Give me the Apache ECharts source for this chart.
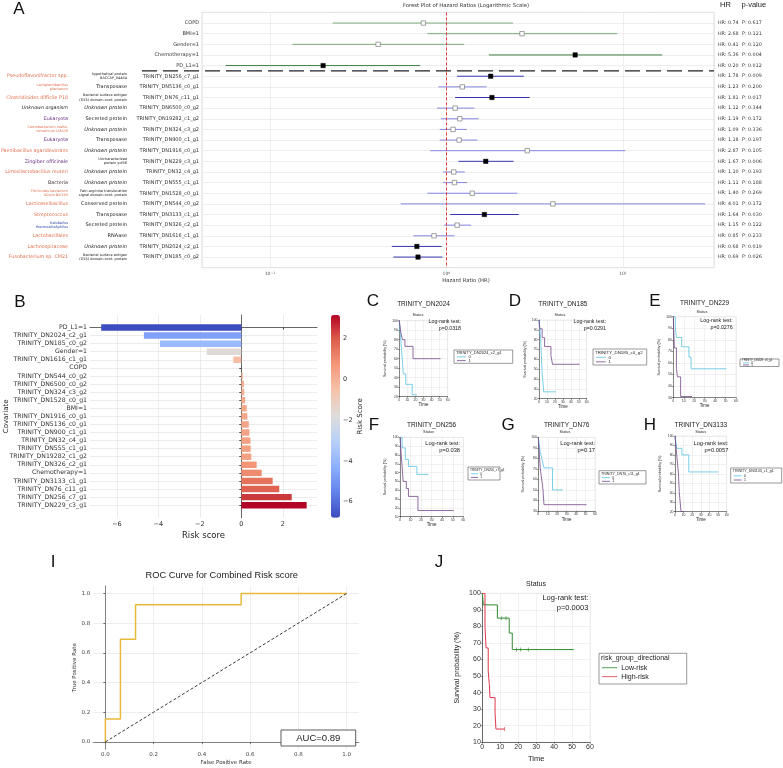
<!DOCTYPE html>
<html>
<head>
<meta charset="utf-8">
<script src="https://cdn.jsdelivr.net/npm/echarts@6/dist/echarts.min.js"></script>
<style>
  html, body { margin: 0; padding: 0; background: #fff; }
  #main { width: 783px; height: 768px; }
</style>
</head>
<body>
<div id="main"></div>
<script>
// ---- A: forest plot data ----
const forestNames = ['COPD', 'BMI=1', 'Gender=1', 'Chemotherapy=1', 'PD_L1=1',
  'TRINITY_DN256_c7_g1', 'TRINITY_DN5136_c0_g1', 'TRINITY_DN76_c11_g1', 'TRINITY_DN6500_c0_g2',
  'TRINITY_DN19282_c1_g2', 'TRINITY_DN324_c3_g2', 'TRINITY_DN900_c1_g1', 'TRINITY_DN1916_c0_g1',
  'TRINITY_DN229_c3_g1', 'TRINITY_DN32_c4_g1', 'TRINITY_DN555_c1_g1', 'TRINITY_DN1528_c0_g1',
  'TRINITY_DN544_c0_g2', 'TRINITY_DN3133_c1_g1', 'TRINITY_DN326_c2_g1', 'TRINITY_DN1616_c1_g1',
  'TRINITY_DN2024_c2_g1', 'TRINITY_DN185_c0_g2'];
const forestHR = [0.74, 2.68, 0.41, 5.36, 0.20, 1.78, 1.23, 1.81, 1.12, 1.19, 1.09, 1.18, 2.87,
  1.67, 1.10, 1.11, 1.40, 4.01, 1.64, 1.15, 0.85, 0.68, 0.69];
const forestLow = [0.227, 0.78, 0.134, 1.74, 0.056, 1.15, 0.90, 1.12, 0.885, 0.93, 0.916, 0.916, 0.81,
  1.17, 0.957, 0.957, 0.78, 0.55, 1.05, 0.97, 0.65, 0.49, 0.50];
const forestHigh = [2.38, 9.3, 1.26, 16.7, 0.71, 2.74, 1.69, 2.96, 1.44, 1.52, 1.30, 1.50, 10.3,
  2.40, 1.27, 1.31, 2.52, 29.3, 2.57, 1.38, 1.11, 0.94, 0.95];
const forestP = [0.617, 0.121, 0.120, 0.004, 0.012, 0.009, 0.200, 0.017, 0.344, 0.172, 0.336, 0.197,
  0.105, 0.006, 0.193, 0.188, 0.269, 0.172, 0.030, 0.122, 0.233, 0.019, 0.026];
const clinicalCount = 5;
const proteinLabels = ['', '', '', '', '',
  'hypothetical protein\nBACCAP_04464', 'Transposase', 'Bacterial surface antigen\n(D15) domain-cont. protein',
  'Unknown protein', 'Secreted protein', 'Unknown protein', 'Transposase', 'Unknown protein',
  'Uncharacterized\nprotein ycf68', 'Unknown protein', 'Unknown protein',
  'Twin-arginine translocation\nsignal domain-cont. protein', 'Conserved protein', 'Transposase',
  'Secreted protein', 'RNAase', 'Unknown protein', 'Bacterial surface antigen\n(D15) domain-cont. protein'];
const organismLabels = ['', '', '', '', '',
  'Pseudoflavonifractor spp.', 'Lactiplantibacillus\nplantarum', 'Clostridioides difficile P18',
  'Unknown organism', 'Eukaryota', 'Carnobacterium malta-\nromaticum LMA28', 'Eukaryota',
  'Paenibacillus agaridevorans', 'Zingiber officinale', 'Limosilactobacillus reuteri', 'Bacteria',
  'Firmicutes bacterium\nADurb.Bin193', 'Lacticaseibacillus', 'Streptococcus',
  'Halobellus\nthermoalkaliphilus', 'Lactobacillales', 'Lachnospiraceae', 'Fusobacterium sp. CM21'];
const organismGroup = ['', '', '', '', '',
  'bac', 'bac', 'bac', 'unk', 'euk', 'bac', 'euk', 'bac', 'euk', 'bac', 'dom',
  'bac', 'bac', 'bac', 'arc', 'bac', 'bac', 'bac'];

// ---- B: risk score data ----
const riskNames = ['PD_L1=1', 'TRINITY_DN2024_c2_g1', 'TRINITY_DN185_c0_g2', 'Gender=1',
  'TRINITY_DN1616_c1_g1', 'COPD', 'TRINITY_DN544_c0_g2', 'TRINITY_DN6500_c0_g2', 'TRINITY_DN324_c3_g2',
  'TRINITY_DN1528_c0_g1', 'BMI=1', 'TRINITY_DN1916_c0_g1', 'TRINITY_DN5136_c0_g1', 'TRINITY_DN900_c1_g1',
  'TRINITY_DN32_c4_g1', 'TRINITY_DN555_c1_g1', 'TRINITY_DN19282_c1_g2', 'TRINITY_DN326_c2_g1',
  'Chemotherapy=1', 'TRINITY_DN3133_c1_g1', 'TRINITY_DN76_c11_g1', 'TRINITY_DN256_c7_g1', 'TRINITY_DN229_c3_g1'];
const riskScores = [-6.76, -4.70, -3.92, -1.67, -0.39, 0.0, 0.07, 0.13, 0.14, 0.19, 0.26, 0.29, 0.36,
  0.39, 0.44, 0.45, 0.48, 0.74, 0.98, 1.51, 1.83, 2.43, 3.15];
const riskTicks = [-6, -4, -2, 0, 2];
const colorbarTicks = [-6, -4, -2, 0, 2];

// ---- C-H: Kaplan-Meier curves by gene (group 0 / group 1), [time, survival %] ----
const kmDN2024_0 = [[0, 100], [1, 89], [2, 78], [3, 67], [4, 56], [5, 44], [8, 33], [16, 22], [22, 22]];
const kmDN2024_1 = [[0, 100], [2, 87], [4, 80], [7, 73], [17, 60], [51, 60]];
const kmDN185_0 = [[0, 100], [1, 91], [2, 82], [3, 64], [4, 45], [6, 27], [21, 27]];
const kmDN185_1 = [[0, 100], [1, 91], [4, 82], [7, 73], [15, 64], [17, 55], [51, 55]];
const kmDN229_0 = [[0, 100], [2, 91], [3, 82], [8, 74], [15, 65], [17, 55], [51, 55]];
const kmDN229_1 = [[0, 100], [1, 73], [3, 55], [4, 48], [7, 31], [18, 31]];
const kmDN256_0 = [[0, 100], [2, 88], [5, 75], [8, 67], [16, 58], [27, 58]];
const kmDN256_1 = [[0, 100], [1, 83], [2, 67], [3, 50], [6, 42], [8, 33], [17, 17], [51, 17]];
const kmDN76_0 = [[0, 100], [2, 86], [4, 79], [6, 71], [15, 50], [26, 50]];
const kmDN76_1 = [[0, 100], [1, 86], [2, 71], [4, 57], [5, 50], [6, 36], [51, 36]];
const kmDN3133_0 = [[0, 100], [2, 87], [8, 80], [16, 62], [50, 62]];
const kmDN3133_1 = [[0, 100], [2, 80], [4, 60], [5, 40], [7, 20], [11, 20]];

// ---- I: ROC ----
const rocFPR = [0, 0, 0.0625, 0.0625, 0.125, 0.125, 0.5625, 0.5625, 1];
const rocTPR = [0, 0.154, 0.154, 0.692, 0.692, 0.923, 0.923, 1, 1];
const rocTicks = [0, 0.2, 0.4, 0.6, 0.8, 1.0];

// ---- J: risk groups ----
const kmLow = [[0, 100], [0.6, 93], [8.4, 85], [15, 76], [16.7, 66], [51, 66]];
const kmHigh = [[0, 100], [1.5, 80], [2.1, 67], [3.3, 53], [3.9, 45], [4.3, 37], [7.1, 28], [7.6, 18], [12.3, 18]];
const censorLow = [[10.8, 85], [13.2, 85], [19, 66], [21.4, 66], [25.6, 66]];
const censorHigh = [[12.3, 18]];

const DV = 'DejaVu Sans', LS = 'Liberation Sans';
const coolwarm = ['#3b4cc0', '#6282ea', '#8db0fe', '#b8d0f9', '#dddddd', '#f5c4ac', '#f49a7b', '#de604d', '#b40426'];
const cyan = '#58c3e2', purple = '#74468a';

const grids = [], xAxes = [], yAxes = [], series = [], graphics = [];

function addGrid(g) {
  grids.push(Object.assign({ outerBoundsMode: 'none', containLabel: false }, g));
  return grids.length - 1;
}
function txt(x, y, text, o) {
  graphics.push({ type: 'text', x: x, y: y, silent: true, z: 20,
    style: Object.assign({ text: text, fontSize: 8, fill: '#222', fontFamily: DV, align: 'left', verticalAlign: 'middle' }, o || {}) });
}
const minus = v => (v < 0 ? '\u2212' + Math.abs(v) : String(v));

// ================= A =================
const fTop = 12.4, fH = 255.3, fLeft = 202, fW = 512;
addGrid({ left: fLeft, top: fTop, width: fW, height: fH, show: true, borderColor: '#d6d6d6', borderWidth: 0.8 });
xAxes.push({
  type: 'log', logBase: 10, gridIndex: 0, min: 0.0412, max: 32.8,
  axisLine: { show: false }, axisTick: { show: false },
  splitLine: { show: true, lineStyle: { color: '#e6e6e6', width: 0.7 } },
  axisLabel: {
    fontSize: 4.5, color: '#555', margin: 4, fontFamily: DV,
    formatter: v => {
      const e = Math.log10(v), r = Math.round(e);
      return Math.abs(e - r) < 1e-6 ? '10{s|' + minus(r) + '}' : '';
    },
    rich: { s: { fontSize: 3.2, verticalAlign: 'top', color: '#555' } }
  }
});
const fy = extra => Object.assign({
  type: 'value', gridIndex: 0, min: -1, max: 23, interval: 1, inverse: true, position: 'left',
  axisLine: { show: false }, axisTick: { show: false }, splitLine: { show: false }
}, extra);
yAxes.push(fy({
  splitLine: { show: true, lineStyle: { color: '#e6e6e6', width: 0.7 } },
  axisLabel: { fontSize: 5, color: '#333', margin: 3, fontFamily: DV, formatter: v => forestNames[v] || '' }
}));
yAxes.push(fy({
  offset: 72,
  axisLabel: {
    margin: 3, fontFamily: DV,
    formatter: v => {
      const t = proteinLabels[v];
      if (!t) return '';
      if (t.indexOf('\n') >= 0) return t.split('\n').map(s => '{s|' + s + '}').join('\n');
      return t.indexOf('Unknown') === 0 ? '{i|' + t + '}' : '{n|' + t + '}';
    },
    rich: {
      n: { fontSize: 5, color: '#222', fontFamily: DV },
      i: { fontSize: 5, color: '#222', fontStyle: 'italic', fontFamily: DV },
      s: { fontSize: 3.5, color: '#222', lineHeight: 4.2, fontFamily: DV }
    }
  }
}));
const orgColors = { bac: '#e0714f', euk: '#6a2d80', unk: '#222', dom: '#4a3a3a', arc: '#3148a8' };
yAxes.push(fy({
  offset: 131,
  axisLabel: {
    margin: 3, fontFamily: DV,
    formatter: v => {
      const t = organismLabels[v];
      if (!t) return '';
      const g = organismGroup[v];
      if (t.indexOf('\n') >= 0) return t.split('\n').map(s => '{' + g + 's|' + s + '}').join('\n');
      return '{' + g + '|' + t + '}';
    },
    rich: (() => {
      const r = {};
      Object.keys(orgColors).forEach(k => {
        r[k] = { fontSize: 4.8, color: orgColors[k], fontFamily: DV, fontStyle: k === 'unk' ? 'italic' : 'normal' };
        r[k + 's'] = { fontSize: 3.5, color: orgColors[k], lineHeight: 4.2, fontFamily: DV };
      });
      return r;
    })()
  }
}));
yAxes.push(fy({
  position: 'right',
  axisLabel: {
    margin: 4, fontFamily: DV,
    formatter: v => forestHR[v] == null ? '' :
      '{a|HR: ' + forestHR[v].toFixed(2) + '}{b|P: ' + forestP[v].toFixed(3) + '}',
    rich: { a: { width: 24, fontSize: 4.8, color: '#333', fontFamily: DV }, b: { fontSize: 4.8, color: '#333', fontFamily: DV } }
  }
}));
series.push({
  type: 'custom', xAxisIndex: 0, yAxisIndex: 0, silent: true,
  data: forestHR.map((h, i) => [h, forestLow[i], forestHigh[i], i, forestP[i]]),
  encode: { x: [0, 1, 2], y: 3 },
  renderItem: (params, api) => {
    const row = api.value(3);
    const a = api.coord([api.value(1), row]), b = api.coord([api.value(2), row]), m = api.coord([api.value(0), row]);
    const sig = api.value(4) < 0.05, clin = row < clinicalCount;
    const col = clin ? (sig ? '#3f7d3f' : '#78ad78') : (sig ? '#3535ad' : '#8585e2');
    const s = 4.4;
    return { type: 'group', children: [
      { type: 'line', shape: { x1: a[0], y1: a[1], x2: b[0], y2: b[1] }, style: { stroke: col, lineWidth: 1 } },
      { type: 'rect', shape: { x: m[0] - s / 2, y: m[1] - s / 2, width: s, height: s },
        style: sig ? { fill: '#000', stroke: '#000', lineWidth: 0.5 } : { fill: '#fff', stroke: '#666', lineWidth: 0.6 } }
    ] };
  },
  markLine: {
    symbol: 'none', silent: true, label: { show: false },
    lineStyle: { color: '#e03a3a', type: [3, 2], width: 1 },
    data: [{ xAxis: 1 }]
  }
});
const sepY = fTop + (clinicalCount - 0.5 + 1) / 24 * fH;
graphics.push({ type: 'line', silent: true, z: 15, shape: { x1: 142, y1: sepY, x2: fLeft + fW, y2: sepY },
  style: { stroke: '#222', lineWidth: 1.3, lineDash: [15, 6] } });
txt(466, 6, 'Forest Plot of Hazard Ratios (Logarithmic Scale)', { fontSize: 5.3, align: 'center', fill: '#333' });
txt(466, 281, 'Hazard Ratio (HR)', { fontSize: 5.3, align: 'center', fill: '#333' });
txt(720, 5, 'HR', { fontSize: 7.5, fontFamily: LS });
txt(741.5, 5, 'p-value', { fontSize: 7.5, fontFamily: LS });

// ================= B =================
const gB = addGrid({ left: 90, top: 315, width: 227, height: 202.7 });
xAxes.push({
  type: 'value', gridIndex: gB, min: -7.3, max: 3.65,
  axisLine: { show: true, lineStyle: { color: '#444', width: 0.8 } },
  axisTick: { show: true, customValues: riskTicks, length: 2, lineStyle: { color: '#444' } },
  axisLabel: { customValues: riskTicks, fontSize: 6.5, color: '#333', margin: 3, fontFamily: DV, formatter: minus },
  splitLine: { show: true, lineStyle: { color: '#e4e4e4', width: 0.7 } },
  name: 'Risk score', nameLocation: 'middle', nameGap: 14, nameTextStyle: { fontSize: 8.5, color: '#222', fontFamily: DV }
});
const riskIdx = riskNames.map((_, i) => i);
const yB = yAxes.length;
yAxes.push({
  type: 'value', gridIndex: gB, inverse: true, min: -1.55, max: 23.55,
  axisLine: { show: true, lineStyle: { color: '#444', width: 0.8 } },
  axisTick: { show: true, customValues: riskIdx, length: 2, lineStyle: { color: '#444' } },
  axisLabel: { customValues: riskIdx, fontSize: 6.2, color: '#333', margin: 3, fontFamily: DV, formatter: v => riskNames[v] || '' },
  splitLine: { show: true, lineStyle: { color: '#e4e4e4', width: 0.7 } },
  name: 'Covariate', nameLocation: 'middle', nameGap: 80, nameRotate: 90, nameMoveOverlap: false,
  nameTextStyle: { fontSize: 7, color: '#222', fontFamily: DV }
});
const riskSeriesIndex = series.length;
series.push({
  type: 'custom', xAxisIndex: gB, yAxisIndex: yB, silent: true,
  data: riskScores.map((v, i) => [v, i]),
  encode: { x: 0, y: 1 },
  renderItem: (params, api) => {
    const i = api.value(1), v = api.value(0);
    const p0 = api.coord([0, i]), p1 = api.coord([v, i]);
    const h = api.size([0, 1])[1] * 0.8;
    return { type: 'rect', shape: { x: Math.min(p0[0], p1[0]), y: p0[1] - h / 2, width: Math.abs(p1[0] - p0[0]), height: h },
      style: { fill: api.visual('color') } };
  }
});
// colorbar axis
const gCB = addGrid({ left: 331, top: 315, width: 9, height: 202.7 });
xAxes.push({ type: 'value', gridIndex: gCB, show: false, min: 0, max: 1 });
yAxes.push({
  type: 'value', gridIndex: gCB, position: 'right', min: -6.78, max: 3.14,
  axisLine: { show: false }, splitLine: { show: false },
  axisTick: { show: true, customValues: colorbarTicks, length: 2, lineStyle: { color: '#333' } },
  axisLabel: { customValues: colorbarTicks, fontSize: 6.5, color: '#333', margin: 3, fontFamily: DV, formatter: minus },
  name: 'Risk Score', nameLocation: 'middle', nameGap: 14, nameRotate: 90, nameTextStyle: { fontSize: 7, color: '#222', fontFamily: DV }
});

// ================= C-H, J: KM panels =================
function kmLegend(box, title, names, colors, fs, rows) {
  const [x1, y1, x2, y2] = box, h = y2 - y1;
  graphics.push({ type: 'rect', silent: true, z: 18, shape: { x: x1, y: y1, width: x2 - x1, height: h },
    style: { fill: '#fff', stroke: '#555', lineWidth: 0.6 } });
  txt(x1 + 2, y1 + h * rows[0], title, { fontSize: fs, fontFamily: LS });
  names.forEach((nm, k) => {
    const yy = y1 + h * rows[k + 1];
    graphics.push({ type: 'line', silent: true, z: 19, shape: { x1: x1 + 3, y1: yy, x2: x1 + 3 + fs * 2.2, y2: yy },
      style: { stroke: colors[k], lineWidth: 0.8 } });
    txt(x1 + 4 + fs * 2.6, yy, nm, { fontSize: fs, fontFamily: LS });
  });
}
function kmPanel(p) {
  const g = addGrid({ left: p.x0, top: p.y0, width: p.w, height: p.h, show: true, borderColor: '#dcdcdc', borderWidth: 0.5 });
  xAxes.push({
    type: 'value', gridIndex: g, min: 0, max: 60, interval: 10,
    axisLine: { lineStyle: { color: '#333', width: p.lw * 0.7 } },
    axisTick: { length: 1.5, lineStyle: { color: '#333', width: 0.5 } },
    axisLabel: { fontSize: p.tick, color: '#333', margin: 1.5, fontFamily: LS },
    splitLine: { show: true, lineStyle: { color: '#e2e2e2', width: 0.5 } },
    name: 'Time', nameLocation: 'middle', nameGap: p.tGap, nameTextStyle: { fontSize: p.nameFs, color: '#222', fontFamily: LS }
  });
  const yi = yAxes.length;
  yAxes.push({
    type: 'value', gridIndex: g, min: p.ymin, max: 100, interval: 10,
    axisLine: { show: true, lineStyle: { color: '#333', width: p.lw * 0.7 } },
    axisTick: { show: true, length: 1.5, lineStyle: { color: '#333', width: 0.5 } },
    axisLabel: { fontSize: p.tick, color: '#333', margin: 1.5, fontFamily: LS },
    splitLine: { show: true, lineStyle: { color: '#e2e2e2', width: 0.5 } },
    name: 'Survival probability (%)', nameLocation: 'middle', nameGap: p.sGap, nameRotate: 90,
    nameTextStyle: { fontSize: p.sFs, color: '#222', fontFamily: LS }
  });
  p.curves.forEach((c, k) => {
    series.push({ type: 'line', name: p.names[k], xAxisIndex: g, yAxisIndex: yi, step: 'end', showSymbol: false,
      silent: true, data: c, lineStyle: { color: p.colors[k], width: p.lw }, itemStyle: { color: p.colors[k] } });
  });
  (p.censor || []).forEach((c, k) => {
    series.push({ type: 'scatter', xAxisIndex: g, yAxisIndex: yi, silent: true, data: c, symbol: 'rect',
      symbolSize: [0.8, 4], itemStyle: { color: p.colors[k] } });
  });
  if (p.title) txt(p.x0 + p.w / 2, p.titleY, p.title, { fontSize: 6.5, align: 'center', fontFamily: LS });
  txt(p.statusX, p.statusY, 'Status', { fontSize: p.statusFs, align: 'center', fontFamily: LS });
  txt(p.lrX, p.lrY, 'Log-rank test:', { fontSize: p.lrFs, align: 'right', fontFamily: LS });
  txt(p.lrX, p.lrY + p.lrFs * 1.25, p.pText, { fontSize: p.lrFs, align: 'right', fontFamily: LS });
  kmLegend(p.legBox, p.legTitle, p.names, p.colors, p.legFs, p.legRows || [0.22, 0.52, 0.8]);
}
const small = { tick: 3.4, nameFs: 4.5, sFs: 3.6, lw: 0.8, statusFs: 3.8, lrFs: 5.3, colors: [cyan, purple], names: ['0', '1'] };
kmPanel(Object.assign({}, small, { x0: 399.3, y0: 320.7, w: 48.4, h: 76, ymin: 20, tGap: 6, sGap: 12,
  curves: [kmDN2024_0, kmDN2024_1], title: 'TRINITY_DN2024', titleY: 304, statusX: 418, statusY: 314.5,
  lrX: 461, lrY: 321.5, pText: 'p=0.0318', legBox: [454, 350, 512.7, 363.3], legTitle: 'TRINITY_DN2024_c2_g1', legFs: 4 }));
kmPanel(Object.assign({}, small, { x0: 539, y0: 320, w: 47.7, h: 78.7, ymin: 20, tGap: 6, sGap: 12,
  curves: [kmDN185_0, kmDN185_1], title: 'TRINITY_DN185', titleY: 304, statusX: 560, statusY: 314.5,
  lrX: 606, lrY: 321.5, pText: 'p=0.0291', legBox: [593, 349, 646.7, 365], legTitle: 'TRINITY_DN185_c0_g2', legFs: 4.4 }));
kmPanel(Object.assign({}, small, { x0: 673.3, y0: 316.7, w: 62.7, h: 81, ymin: 30, tGap: 6, sGap: 12,
  curves: [kmDN229_0, kmDN229_1], title: 'TRINITY_DN229', titleY: 303.5, statusX: 702, statusY: 312,
  lrX: 732.7, lrY: 321, pText: 'p=0.0276', legBox: [740, 359, 779, 366.5], legTitle: 'TRINITY_DN229_c3_g1', legFs: 2.8 }));
kmPanel(Object.assign({}, small, { x0: 400, y0: 437.3, w: 63.3, h: 79.4, ymin: 10, tGap: 6, sGap: 13,
  curves: [kmDN256_0, kmDN256_1], title: 'TRINITY_DN256', titleY: 425, statusX: 428.5, statusY: 431.5,
  lrX: 460, lrY: 443.3, lrFs: 5.7, pText: 'p=0.038', legBox: [468, 467, 500, 480], legTitle: 'TRINITY_DN256_c7_g1', legFs: 3.2 }));
kmPanel(Object.assign({}, small, { x0: 538.3, y0: 437.3, w: 56.7, h: 73.7, ymin: 30, tGap: 6, sGap: 13,
  curves: [kmDN76_0, kmDN76_1], title: 'TRINITY_DN76', titleY: 425, statusX: 565, statusY: 431.5,
  lrX: 595, lrY: 443.3, lrFs: 5.7, pText: 'p=0.17', legBox: [599, 470.7, 646, 484], legTitle: 'TRINITY_DN76_c11_g1', legFs: 3.6 }));
kmPanel(Object.assign({}, small, { x0: 675, y0: 436, w: 51.7, h: 75.7, ymin: 20, tGap: 6, sGap: 13,
  curves: [kmDN3133_0, kmDN3133_1], title: 'TRINITY_DN3133', titleY: 425, statusX: 700.7, statusY: 431.5,
  lrX: 728.3, lrY: 443.3, lrFs: 5.7, pText: 'p=0.0057', legBox: [730.7, 468, 781.7, 483], legTitle: 'TRINITY_DN3133_c1_g1', legFs: 3.6 }));
kmPanel({ x0: 482.3, y0: 593.3, w: 107.7, h: 149, ymin: 10, tGap: 13, sGap: 22, tick: 7, nameFs: 7.5, sFs: 7,
  lw: 1, statusFs: 7, lrFs: 7.5, colors: ['#2f8a2f', '#e2374a'], names: ['Low-risk', 'High-risk'],
  curves: [kmLow, kmHigh], censor: [censorLow, censorHigh], statusX: 536, statusY: 584,
  lrX: 588.3, lrY: 598.3, pText: 'p=0.0003', legBox: [599, 653.3, 686.7, 684], legTitle: 'risk_group_directional',
  legFs: 7, legRows: [0.14, 0.47, 0.76] });

// ================= I: ROC =================
const gI = addGrid({ left: 93.3, top: 586, width: 265.5, height: 163.3 });
xAxes.push({
  type: 'value', gridIndex: gI, min: -0.05, max: 1.05,
  axisLine: { show: true, lineStyle: { color: '#666', width: 0.8 } },
  axisTick: { show: true, customValues: rocTicks, length: 2, lineStyle: { color: '#666' } },
  axisLabel: { customValues: rocTicks, fontSize: 5.5, color: '#444', margin: 2.5, fontFamily: DV, formatter: v => v.toFixed(1) },
  splitLine: { show: true, lineStyle: { color: '#e6e6e6', width: 0.7 } },
  name: 'False Positive Rate', nameLocation: 'middle', nameGap: 10, nameTextStyle: { fontSize: 5.5, color: '#333', fontFamily: DV }
});
const yI = yAxes.length;
yAxes.push({
  type: 'value', gridIndex: gI, min: -0.05, max: 1.05,
  axisLine: { show: true, lineStyle: { color: '#666', width: 0.8 } },
  axisTick: { show: true, customValues: rocTicks, length: 2, lineStyle: { color: '#666' } },
  axisLabel: { customValues: rocTicks, fontSize: 5.5, color: '#444', margin: 3, fontFamily: DV, formatter: v => v.toFixed(1) },
  splitLine: { show: true, lineStyle: { color: '#e6e6e6', width: 0.7 } },
  name: 'True Positive Rate', nameLocation: 'middle', nameGap: 14, nameRotate: 90, nameTextStyle: { fontSize: 5.5, color: '#333', fontFamily: DV }
});
series.push({ type: 'line', xAxisIndex: gI, yAxisIndex: yI, silent: true, showSymbol: false,
  data: rocFPR.map((f, i) => [f, rocTPR[i]]), lineStyle: { color: '#e9b93c', width: 1.5 } });
series.push({ type: 'line', xAxisIndex: gI, yAxisIndex: yI, silent: true, showSymbol: false,
  data: [[0, 0], [1, 1]], lineStyle: { color: '#222', width: 0.9, type: [3, 2] } });
txt(221.7, 575, 'ROC Curve for Combined Risk score', { fontSize: 9.3, align: 'center', fontFamily: LS });
graphics.push({ type: 'rect', silent: true, z: 18, shape: { x: 281, y: 730, width: 74.7, height: 16 },
  style: { fill: '#fff', stroke: '#333', lineWidth: 0.8 } });
txt(318.3, 738, 'AUC=0.89', { fontSize: 9.5, align: 'center', fontFamily: LS });

// panel letters
[['A', 19, 9], ['B', 20, 302], ['C', 373, 301], ['D', 515, 301], ['E', 655, 301],
 ['F', 374, 425], ['G', 508, 425], ['H', 650, 425], ['I', 53, 562], ['J', 439, 562]].forEach(l =>
  txt(l[1], l[2], l[0], { fontSize: 17, align: 'center', fontFamily: LS, fill: '#111' }));

const chart = echarts.init(document.getElementById('main'));
chart.setOption({
  animation: false,
  backgroundColor: '#fff',
  textStyle: { fontFamily: DV },
  grid: grids, xAxis: xAxes, yAxis: yAxes, series: series,
  visualMap: {
    type: 'continuous', seriesIndex: riskSeriesIndex, dimension: 0, min: -6.78, max: 3.14,
    inRange: { color: coolwarm }, left: 331, top: 315, itemWidth: 9, itemHeight: 202.7,
    calculable: false, hoverLink: false, padding: 0, orient: 'vertical'
  },
  graphic: { elements: graphics }
});
</script>
</body>
</html>
